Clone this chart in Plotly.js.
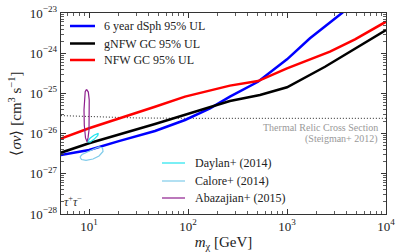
<!DOCTYPE html>
<html><head><meta charset="utf-8">
<script src="https://cdn.plot.ly/plotly-3.0.1.min.js"></script>
<style>html,body{margin:0;padding:0;background:#fff}#plot{width:407px;height:252px}</style>
</head><body><div id="plot"></div>
<script>
// ---- data ----
const massDsph = [5.2, 10, 20, 46.4, 93.3, 167, 265, 509, 1000, 1706, 3594, 5000];
const svDsph   = [2.94e-27, 3.9e-27, 6.5e-27, 1.16e-26, 2.18e-26, 4.26e-26, 8.3e-26, 1.95e-25, 7.05e-25, 2.35e-24, 1.0e-23, 2.0e-23];

const massGnfw = [5.2, 10, 46.4, 93.3, 167, 265, 533, 1000, 2421, 4864, 10000];
const svGnfw   = [3.35e-27, 5.74e-27, 1.73e-26, 2.9e-26, 4.5e-26, 6.47e-26, 9.1e-26, 1.42e-25, 4.6e-25, 1.32e-24, 3.78e-24];

const massNfw = [5.2, 10, 46.4, 93.3, 265, 509, 1000, 2716, 4864, 10000];
const svNfw   = [7.55e-27, 1.36e-26, 4.67e-26, 8.3e-26, 1.56e-25, 2.03e-25, 4.2e-25, 1.09e-24, 2.22e-24, 6.08e-24];

const massRelic = [5.2, 10, 30, 100, 1000, 10000];
const svRelic   = [2.8e-26, 2.65e-26, 2.45e-26, 2.4e-26, 2.4e-26, 2.4e-26];

const massDaylan = [9.61, 10.23, 11.23, 12.41, 12.27, 11.23, 10.23, 9.61];
const svDaylan   = [6.25e-27, 7.64e-27, 9.07e-27, 1.02e-26, 8.97e-27, 7.21e-27, 6.11e-27, 6.25e-27];

const massCalore = [8.11, 8.40, 9.33, 10.97, 12.62, 13.85, 13.69, 12.62, 11.23, 9.77, 8.50, 8.11];
const svCalore   = [2.62e-27, 2.27e-27, 2.17e-27, 2.33e-27, 2.77e-27, 3.59e-27, 4.39e-27, 4.65e-27, 4.14e-27, 3.48e-27, 3.02e-27, 2.62e-27];

const massAbaz = [9.44, 9.84, 10.05, 10.09, 10.0, 9.77, 9.55, 9.22, 8.96, 8.90, 8.99, 9.15, 9.44];
const svAbaz   = [1.26e-25, 1.08e-25, 6.9e-26, 2.9e-26, 1.23e-26, 7.8e-27, 6.3e-27, 7.8e-27, 1.64e-26, 3.9e-26, 7.7e-26, 1.11e-25, 1.26e-25];

const xTickVals = [10, 100, 1000, 10000];
const xTickText = ['10<sup>1</sup>', '10<sup>2</sup>', '10<sup>3</sup>', '10<sup>4</sup>'];
const yTickVals = [1e-28, 1e-27, 1e-26, 1e-25, 1e-24, 1e-23];
const yTickText = ['10<sup>−28</sup>', '10<sup>−27</sup>', '10<sup>−26</sup>', '10<sup>−25</sup>', '10<sup>−24</sup>', '10<sup>−23</sup>'];

const limitNames = ['6 year dSph 95% UL', 'gNFW GC 95% UL', 'NFW GC 95% UL'];
const limitColors = ['#0000ff', '#000000', '#ff0000'];
const excessNames = ['Daylan+ (2014)', 'Calore+ (2014)', 'Abazajian+ (2015)'];
const excessColors = ['#22e4ee', '#7fcbea', '#8e1f8e'];

// minor tick positions (axis furniture)
const xMinor = [], yMinor = [];
for (let e = 0; e < 4; e++) for (let d = 2; d <= 9; d++) xMinor.push(d * Math.pow(10, e));
for (let e = -28; e < -23; e++) for (let d = 2; d <= 9; d++) yMinor.push(d * Math.pow(10, e));

const serif = '"Liberation Serif", serif';

const traces = [
  {x: massRelic, y: svRelic, mode: 'lines', line: {color: '#222', width: 1, dash: '1px,2px'}, showlegend: false},
  {x: massDsph, y: svDsph, mode: 'lines', name: limitNames[0], line: {color: limitColors[0], width: 2.5}, showlegend: false},
  {x: massGnfw, y: svGnfw, mode: 'lines', name: limitNames[1], line: {color: limitColors[1], width: 2.5}, showlegend: false},
  {x: massNfw, y: svNfw, mode: 'lines', name: limitNames[2], line: {color: limitColors[2], width: 2.5}, showlegend: false},
  {x: massDaylan, y: svDaylan, mode: 'lines', name: excessNames[0], line: {color: excessColors[0], width: 1.2}, showlegend: false},
  {x: massCalore, y: svCalore, mode: 'lines', name: excessNames[1], line: {color: excessColors[1], width: 1.2}, showlegend: false},
  {x: massAbaz, y: svAbaz, mode: 'lines', name: excessNames[2], line: {color: excessColors[2], width: 1.2}, showlegend: false}
];

// pixel helpers for legend placement inside the plot area (l=61, plot width 325, top 13, height 201)
const px = v => (v - 61) / 325;
const py = v => (214 - v) / 201;

const shapes = [];
const annotations = [];
const leg1Y = [26, 43.5, 60];
limitNames.forEach((n, i) => {
  shapes.push({type: 'line', xref: 'paper', yref: 'paper', x0: px(70), x1: px(95), y0: py(leg1Y[i]), y1: py(leg1Y[i]),
               line: {color: limitColors[i], width: 2.5}});
  annotations.push({xref: 'paper', yref: 'paper', x: px(102), y: py(leg1Y[i]), xanchor: 'left', yanchor: 'middle',
                    showarrow: false, text: n, font: {family: serif, size: 12, color: '#222'}});
});
const leg2Y = [163, 181, 198];
excessNames.forEach((n, i) => {
  shapes.push({type: 'line', xref: 'paper', yref: 'paper', x0: px(162), x1: px(185), y0: py(leg2Y[i]), y1: py(leg2Y[i]),
               line: {color: excessColors[i], width: 1.2}});
  annotations.push({xref: 'paper', yref: 'paper', x: px(193), y: py(leg2Y[i]), xanchor: 'left', yanchor: 'middle',
                    showarrow: false, text: n, font: {family: serif, size: 12, color: '#222'}});
});
annotations.push(
  {xref: 'paper', yref: 'paper', x: px(380), y: py(127), xanchor: 'right', yanchor: 'middle', showarrow: false,
   text: 'Thermal Relic Cross Section', font: {family: serif, size: 10, color: '#999'}},
  {xref: 'paper', yref: 'paper', x: px(380), y: py(138.5), xanchor: 'right', yanchor: 'middle', showarrow: false,
   text: '(Steigman+ 2012)', font: {family: serif, size: 10, color: '#999'}},
  {xref: 'paper', yref: 'paper', x: px(62), y: py(201), xanchor: 'left', yanchor: 'middle', showarrow: false,
   text: '<i>τ</i><sup>+</sup><i>τ</i><sup>−</sup>', font: {family: serif, size: 12, color: '#333'}}
);

const axisCommon = {
  type: 'log', showgrid: false, zeroline: false,
  showline: true, linecolor: '#333', linewidth: 1.3, mirror: 'allticks',
  ticks: 'inside', ticklen: 5, tickwidth: 1, tickcolor: '#333',
  tickmode: 'array',
  tickfont: {family: serif, size: 13, color: '#222'}
};

const layout = {
  width: 407, height: 252,
  margin: {l: 61, r: 21, t: 13, b: 38},
  paper_bgcolor: '#fff', plot_bgcolor: '#fff',
  showlegend: false,
  xaxis: Object.assign({}, axisCommon, {
    range: [0.717, 4], tickvals: xTickVals, ticktext: xTickText,
    minor: {tickmode: 'array', tickvals: xMinor, ticks: 'inside', ticklen: 3, tickwidth: 0.8, tickcolor: '#333'},
    title: {text: '<i>m</i><sub>χ</sub> [GeV]', font: {family: serif, size: 15, color: '#222'}, standoff: 2}
  }),
  yaxis: Object.assign({}, axisCommon, {
    range: [-28, -23], tickvals: yTickVals, ticktext: yTickText,
    minor: {tickmode: 'array', tickvals: yMinor, ticks: 'inside', ticklen: 3, tickwidth: 0.8, tickcolor: '#333'},
    title: {text: '⟨<i>σv</i>⟩ [cm<sup>3</sup> s<sup>−1</sup>]', font: {family: serif, size: 15, color: '#222'}, standoff: 4}
  }),
  shapes: shapes,
  annotations: annotations
};

Plotly.newPlot('plot', traces, layout, {staticPlot: true, displayModeBar: false});
</script></body></html>
